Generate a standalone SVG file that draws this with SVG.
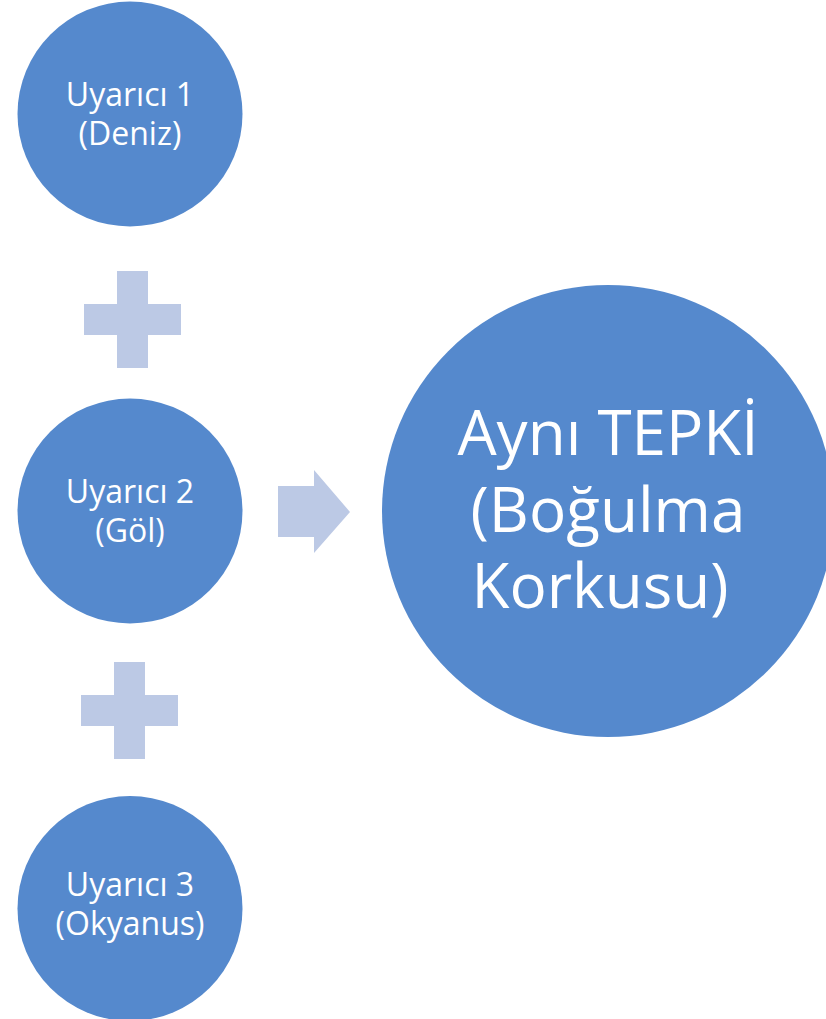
<svg xmlns="http://www.w3.org/2000/svg" width="826" height="1019" viewBox="0 0 826 1019">
<style>
.node{fill:#5589CD;}
.sym{fill:#BCC9E5;}
.t{fill:#FFFFFF;font-family:"Open Sans","Liberation Sans",sans-serif;text-anchor:middle;}
.s{font-size:32px;}
.b{font-size:62px;}
</style>
<rect width="826" height="1019" fill="#FFFFFF"/>
<g id="node-uyarici1">
<circle class="node" cx="130" cy="114" r="112.5"/>
<text class="t s" x="130" y="106">Uyarıcı 1</text>
<text class="t s" x="130" y="145">(Deniz)</text>
</g>
<g id="node-uyarici2">
<circle class="node" cx="130" cy="511" r="112.5"/>
<text class="t s" x="130" y="503">Uyarıcı 2</text>
<text class="t s" x="130" y="542">(Göl)</text>
</g>
<g id="node-uyarici3">
<circle class="node" cx="130" cy="908.5" r="112.5"/>
<text class="t s" x="130" y="896">Uyarıcı 3</text>
<text class="t s" x="130" y="935">(Okyanus)</text>
</g>
<g id="node-tepki">
<circle class="node" cx="608" cy="511" r="226"/>
<text class="t b" x="608" y="455">Aynı TEPKİ</text>
<text class="t b" x="608" y="532">(Boğulma</text>
<text class="t b" x="600" y="608">Korkusu)</text>
</g>
<g id="connectors">
<path class="sym" d="M117 271H148V304H181V335H148V368H117V335H84V304H117Z"/>
<path class="sym" d="M114 662H145V695H178V726H145V759H114V726H81V695H114Z"/>
<path class="sym" d="M278 486H314V470L350 512L314 553V537H278Z"/>
</g>
</svg>
